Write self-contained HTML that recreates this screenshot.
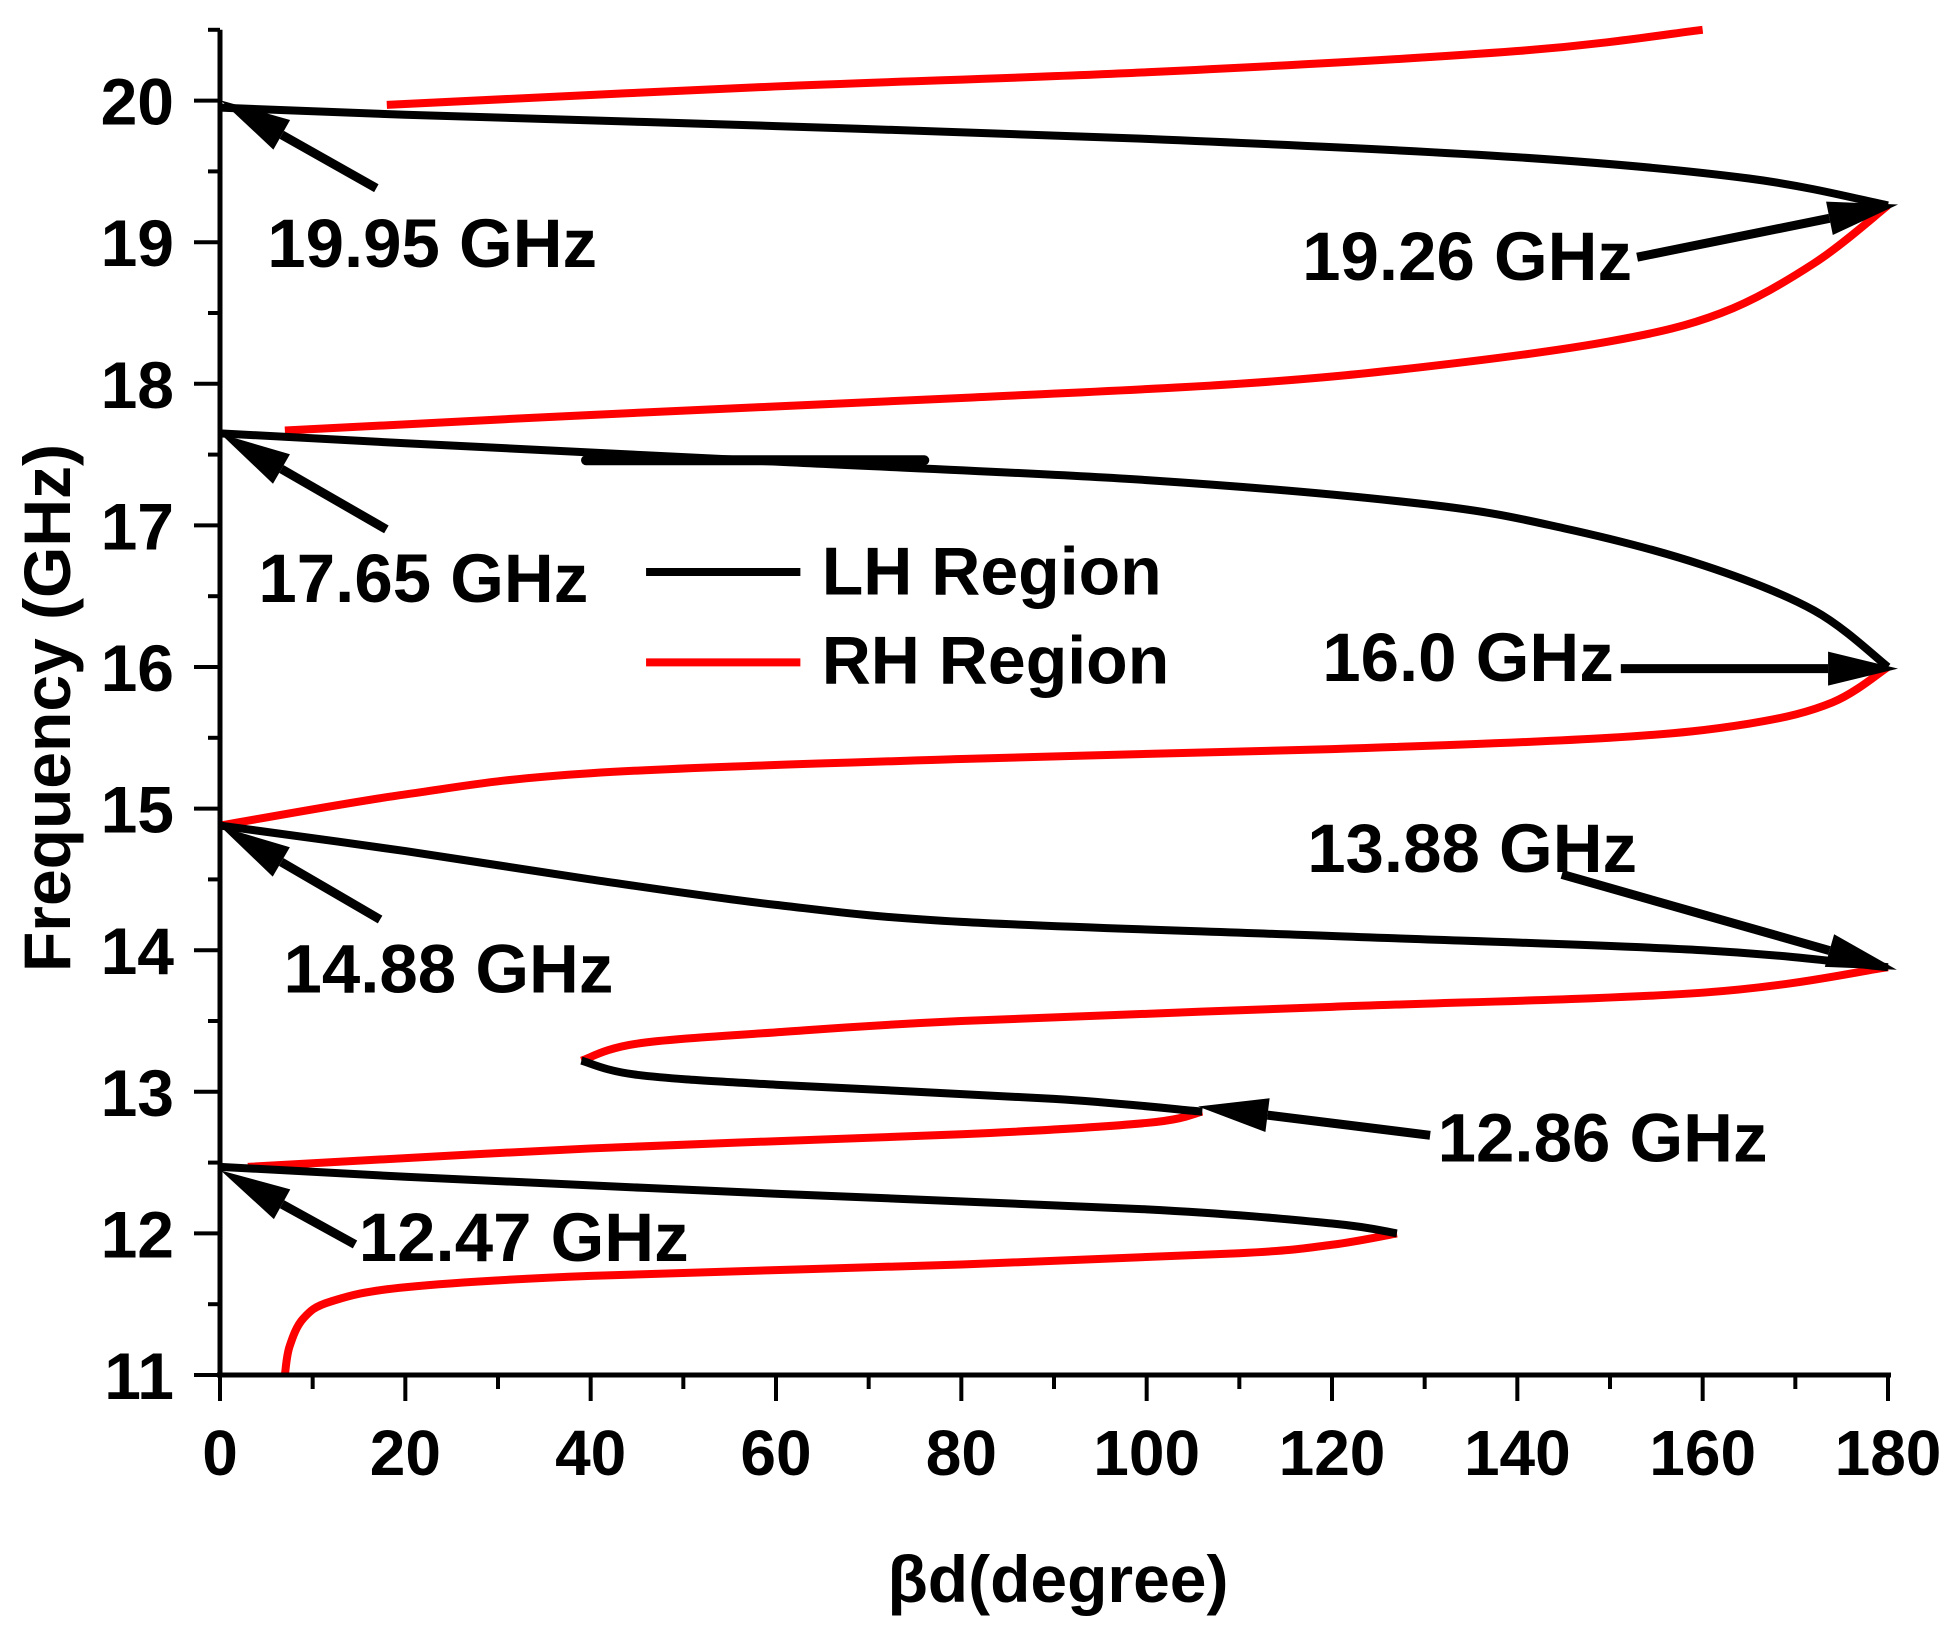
<!DOCTYPE html>
<html><head><meta charset="utf-8"><style>
html,body{margin:0;padding:0;background:#fff;}
svg{display:block;font-family:"Liberation Sans",sans-serif;font-weight:bold;}
</style></head><body>
<svg id="chart" width="1957" height="1641" viewBox="0 0 1957 1641" xmlns="http://www.w3.org/2000/svg">
<g id="marks"></g>
<g id="axes"></g>
<g id="notes"></g>
</svg>
<script>
// ---- data (βd in degrees, frequency in GHz) ----
const xTicks = [0,20,40,60,80,100,120,140,160,180];
const yTicks = [11,12,13,14,15,16,17,18,19,20];
const rh1 = [[7,11],[7.5,11.2],[9,11.4],[12,11.52],[20,11.62],[40,11.7],[80,11.78],[110,11.86],[120,11.92],[127,12.0]];
const lh1 = [[127,12.0],[120,12.07],[100,12.17],[60,12.28],[20,12.4],[0,12.47]];
const rh2 = [[3,12.47],[40,12.6],[80,12.7],[100,12.78],[106,12.86]];
const lh2 = [[106,12.86],[90,12.95],[60,13.05],[45,13.12],[39,13.22]];
const rh3 = [[39,13.22],[45,13.34],[60,13.42],[80,13.5],[120,13.6],[160,13.7],[180,13.88]];
const lh3 = [[180,13.88],[160,14.0],[120,14.1],[80,14.2],[60,14.32],[40,14.5],[20,14.7],[0,14.88]];
const rh4 = [[0,14.88],[20,15.1],[40,15.25],[80,15.35],[120,15.42],[150,15.5],[165,15.6],[174,15.75],[180,16.0]];
const lh4 = [[180,16.0],[172,16.4],[160,16.72],[145,16.98],[130,17.15],[100,17.32],[60,17.45],[20,17.58],[0,17.65]];
const lhStray = [[39.5,17.46],[76,17.46]];
const rh5 = [[7,17.67],[40,17.78],[80,17.9],[110,18.0],[130,18.12],[150,18.3],[162,18.5],[172,18.85],[180,19.26]];
const lh5 = [[180,19.26],[165,19.45],[140,19.6],[100,19.73],[60,19.82],[20,19.9],[0,19.95]];
const rh6 = [[18,19.97],[60,20.1],[100,20.2],[140,20.35],[160,20.5]];

const NS="http://www.w3.org/2000/svg";
const X0=220,X1=1888,Y0=1375,PPG=141.6;
function xs(v){return X0+(v/180)*(X1-X0);}
function ys(v){return Y0-(v-11)*PPG;}
function mk(tag,attrs,parent){const e=document.createElementNS(NS,tag);for(const k in attrs)e.setAttribute(k,attrs[k]);parent.appendChild(e);return e;}
function pathOf(pts){
  const p=pts.map(d=>[xs(d[0]),ys(d[1])]);
  let s="M"+p[0][0]+","+p[0][1];
  for(let i=0;i<p.length-1;i++){
    const a=p[Math.max(i-1,0)],b=p[i],c=p[i+1],d=p[Math.min(i+2,p.length-1)];
    s+=" C"+(b[0]+(c[0]-a[0])/6)+","+(b[1]+(c[1]-a[1])/6)+" "+(c[0]-(d[0]-b[0])/6)+","+(c[1]-(d[1]-b[1])/6)+" "+c[0]+","+c[1];
  }
  return s;
}
const marks=document.getElementById('marks');
[[rh1,'rh-curve-1'],[rh2,'rh-curve-2'],[rh3,'rh-curve-3'],[rh4,'rh-curve-4'],[rh5,'rh-curve-5'],[rh6,'rh-curve-6']].forEach(([d,n])=>{
  const e=mk('path',{d:pathOf(d),fill:'none',stroke:'#ff0000','stroke-width':8,'stroke-linejoin':'round'},marks);
  
  
});
[[lh1,'lh-curve-1'],[lh2,'lh-curve-2'],[lh3,'lh-curve-3'],[lh4,'lh-curve-4'],[lh5,'lh-curve-5']].forEach(([d,n])=>{
  const e=mk('path',{d:pathOf(d),fill:'none',stroke:'#000','stroke-width':8,'stroke-linejoin':'round'},marks);
  
  
});
const st=mk('path',{d:pathOf(lhStray),fill:'none',stroke:'#000','stroke-width':10,'stroke-linecap':'round'},marks);



// axes
const axes=document.getElementById('axes');
const xa=mk('line',{x1:X0-3,y1:Y0,x2:X1+3,y2:Y0,stroke:'#000','stroke-width':5},axes);


const ya=mk('line',{x1:X0,y1:Y0+2,x2:X0,y2:ys(20.5),stroke:'#000','stroke-width':5},axes);


for(let v=0;v<=180;v+=10){
  const major=v%20===0;
  const t=mk('line',{x1:xs(v),y1:Y0,x2:xs(v),y2:Y0+(major?26:14),stroke:'#000','stroke-width':4},axes);
  
  
}
xTicks.forEach(v=>{
  const t=mk('text',{x:xs(v),y:1475,'font-size':64,'text-anchor':'middle'},axes);t.textContent=v;
  
  
});
for(let v=11;v<=20.5;v+=0.5){
  const major=Number.isInteger(v);
  const t=mk('line',{x1:X0,y1:ys(v),x2:X0-(major?26:12),y2:ys(v),stroke:'#000','stroke-width':4},axes);
  
  
}
yTicks.forEach(v=>{
  const t=mk('text',{x:174,y:ys(v)+24,'font-size':66,'text-anchor':'end'},axes);t.textContent=v;
  
  
});
const xt=mk('text',{x:1058,y:1602,'font-size':66,'text-anchor':'middle'},axes);xt.textContent='βd(degree)';


const yt=mk('text',{x:0,y:0,'font-size':66,'text-anchor':'middle',transform:'translate(70,708) rotate(-90)'},axes);yt.textContent='Frequency (GHz)';



// annotations (display coords scaled)
const S=1.2545;
const notes=document.getElementById('notes');
function arrow(tx,ty,hx,hy,name){
  tx*=S;ty*=S;hx*=S;hy*=S;
  const g=mk('g',{},notes);
  
  
  const dx=hx-tx,dy=hy-ty,L=Math.hypot(dx,dy),ux=dx/L,uy=dy/L,hl=70,hw=17;
  const bx=hx-ux*hl,by=hy-uy*hl;
  mk('line',{x1:tx,y1:ty,x2:bx,y2:by,stroke:'#000','stroke-width':9},g);
  mk('polygon',{points:`${hx},${hy} ${bx-uy*hw},${by+ux*hw} ${bx+uy*hw},${by-ux*hw}`,fill:'#000'},g);
}
function label(x,y,s,name){
  const t=mk('text',{x:x*S,y:y*S,'font-size':69},notes);t.textContent=s;
  
  
}
arrow(300,150,176,80,'arrow-19-95');label(213,213,'19.95 GHz','label-19-95');
arrow(1305,205,1513,163,'arrow-19-26');label(1038,223,'19.26 GHz','label-19-26');
arrow(308,422,176,346,'arrow-17-65');label(206,480,'17.65 GHz','label-17-65');
arrow(1292,533,1513,533,'arrow-16-0');label(1054,543,'16.0 GHz','label-16-0');
arrow(303,733,176,659,'arrow-14-88');label(226,791,'14.88 GHz','label-14-88');
arrow(1245,697,1512,773,'arrow-13-88');label(1042,695,'13.88 GHz','label-13-88');
arrow(1140,905,955,882,'arrow-12-86');label(1146,926,'12.86 GHz','label-12-86');
arrow(283,992,176,933,'arrow-12-47');label(286,1005,'12.47 GHz','label-12-47');

// legend
const lg=mk('g',{},notes);


const l1=mk('line',{x1:515*S,y1:456*S,x2:638*S,y2:456*S,stroke:'#000','stroke-width':8},lg);


const l2=mk('line',{x1:515*S,y1:528*S,x2:638*S,y2:528*S,stroke:'#ff0000','stroke-width':8},lg);


const t1=mk('text',{x:655*S,y:474*S,'font-size':68},lg);t1.textContent='LH Region';


const t2=mk('text',{x:655*S,y:545*S,'font-size':68},lg);t2.textContent='RH Region';


</script>
</body></html>
